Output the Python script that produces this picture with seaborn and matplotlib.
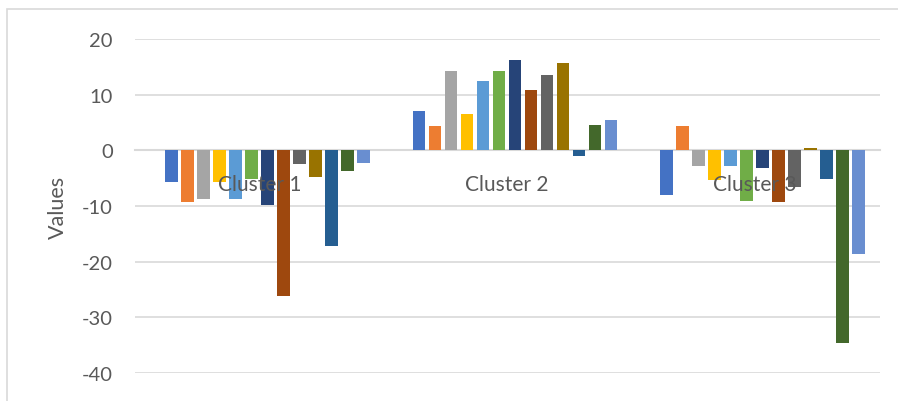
import matplotlib
matplotlib.use("Agg")
import matplotlib.pyplot as plt
from matplotlib.patches import Rectangle
import matplotlib.transforms as mtransforms
import seaborn as sns
import pandas as pd

# Categories and series values
clusters = ["Cluster 1", "Cluster 2", "Cluster 3"]
series = [f"Series {i}" for i in range(1, 14)]

cluster1 = [-5.6, -9.3, -8.7, -5.6, -8.8, -5.2, -9.9, -26.2, -2.5, -4.8, -17.1, -3.8, -2.2]
cluster2 = [7.0, 4.3, 14.3, 6.5, 12.5, 14.3, 16.3, 10.8, 13.5, 15.6, -1.1, 4.5, 5.4]
cluster3 = [-8.0, 4.3, -2.9, -5.3, -2.8, -9.1, -3.1, -9.3, -6.6, 0.4, -5.2, -34.6, -18.6]

yticks = [-40, -30, -20, -10, 0, 10, 20]

palette = ["#4472C4", "#ED7D31", "#A5A5A5", "#FFC000", "#5B9BD5", "#70AD47",
           "#264478", "#9E480E", "#636363", "#997300", "#255E91", "#43682B",
           "#698ED0"]

rows = []
for name, vals in zip(clusters, [cluster1, cluster2, cluster3]):
    for s, v in zip(series, vals):
        rows.append({"cluster": name, "series": s, "value": v})
df = pd.DataFrame(rows)

sns.set_theme(style="white")
plt.rcParams["font.family"] = ["Lato", "DejaVu Sans"]
text_color = "#595959"
grid_color = "#D9D9D9"

fig = plt.figure(figsize=(8.98, 4.02), dpi=100)
ax = fig.add_axes([135 / 898, 28 / 402, 745 / 898, 334 / 402])

sns.barplot(data=df, x="cluster", y="value", hue="series", order=clusters,
            hue_order=series, palette=palette, width=0.84, gap=0.23,
            legend=False, ax=ax, saturation=1, edgecolor="none")

ax.set_ylim(-40, 20)
ax.set_xlim(-0.535, 2.475)
ax.set_yticks(yticks)
ax.set_yticklabels([str(t) for t in yticks])
ax.yaxis.grid(True, color=grid_color, linewidth=1.2)
ax.set_axisbelow(True)

for side in ["left", "right", "top"]:
    ax.spines[side].set_visible(False)
ax.spines["bottom"].set_position(("data", 0))
ax.spines["bottom"].set_color(grid_color)
ax.spines["bottom"].set_linewidth(1.5)
ax.spines["bottom"].set_zorder(0.5)

ax.tick_params(axis="y", length=0, pad=16, labelsize=14.5, labelcolor=text_color)
ax.tick_params(axis="x", length=0, pad=17, labelsize=15, labelcolor=text_color)
# Category labels sit on top of the bars
ax.xaxis.set_zorder(5)
offset = mtransforms.ScaledTranslation(-8 / 100, 0, fig.dpi_scale_trans)
for lbl in ax.get_xticklabels():
    lbl.set_transform(lbl.get_transform() + offset)

ax.set_xlabel("")
ax.set_ylabel("Values", fontsize=15.5, color=text_color, labelpad=10)

# Chart area frame
fig.patches.append(Rectangle((7 / 898, -0.1), 1.2, (402 - 10) / 402 + 0.1,
                             transform=fig.transFigure, fill=False,
                             edgecolor=grid_color, linewidth=1.2))

fig.savefig("out.png", dpi=100, facecolor="white")
